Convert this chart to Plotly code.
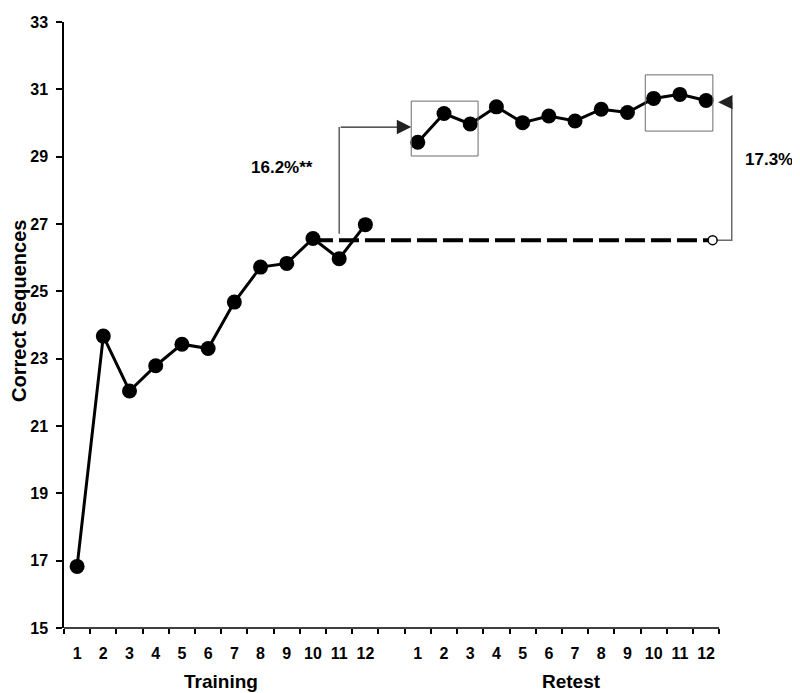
import plotly.graph_objects as go

# sessions and mean correct sequences
training_sessions = list(range(1, 13))
training_scores = [16.83, 23.67, 22.04, 22.79, 23.43, 23.30, 24.68, 25.72, 25.83, 26.57, 25.97, 26.98]
retest_sessions = list(range(1, 13))
retest_scores = [29.43, 30.28, 29.97, 30.48, 30.01, 30.21, 30.06, 30.41, 30.31, 30.73, 30.85, 30.67]
baseline_score = 26.52          # expected level if no off-line gain
gain_early = "16.2%**"
gain_late = "17.3%*"

y_ticks = list(range(15, 34, 2))

# slots on a shared axis: training 0..11, one blank slot, retest 13..24
train_x = [s - 1 for s in training_sessions]
retest_x = [s + 12 for s in retest_sessions]
tick_x = train_x + retest_x
tick_text = [str(s) for s in training_sessions] + [str(s) for s in retest_sessions]

FONT = "Liberation Sans, Arial, sans-serif"
BLACK = "#000000"
GREY = "#6b6b6b"

fig = go.Figure()

# dashed projection from training session 10 to end of retest
fig.add_trace(go.Scatter(
    x=[train_x[9], retest_x[-1] + 0.25],
    y=[baseline_score, baseline_score],
    mode="lines",
    line=dict(color=BLACK, width=4, dash="20px,6px"),
    hoverinfo="skip",
))

fig.add_trace(go.Scatter(
    x=train_x, y=training_scores, mode="lines+markers",
    line=dict(color=BLACK, width=3),
    marker=dict(size=15, color=BLACK),
    name="Training",
))
fig.add_trace(go.Scatter(
    x=retest_x, y=retest_scores, mode="lines+markers",
    line=dict(color=BLACK, width=3),
    marker=dict(size=15, color=BLACK),
    name="Retest",
))

# connector lines for the gain annotations
fig.add_trace(go.Scatter(
    x=[train_x[10], train_x[10]], y=[26.71, 29.88],
    mode="lines", line=dict(color="#333333", width=1.2), hoverinfo="skip",
))
fig.add_trace(go.Scatter(
    x=[retest_x[-1] + 0.25, 24.98, 24.98], y=[baseline_score, baseline_score, 30.62],
    mode="lines", line=dict(color=GREY, width=1.5), hoverinfo="skip",
))

# open circle at the projected end point
fig.add_trace(go.Scatter(
    x=[retest_x[-1] + 0.25], y=[baseline_score], mode="markers",
    marker=dict(size=9, color="white", line=dict(color=BLACK, width=1.5)),
    hoverinfo="skip",
))

# boxes around first and last three retest sessions
fig.add_shape(type="rect", xref="x", yref="y", x0=12.75, x1=15.3, y0=29.02, y1=30.65,
              line=dict(color=GREY, width=1))
fig.add_shape(type="rect", xref="x", yref="y", x0=21.68, x1=24.26, y0=29.76, y1=31.43,
              line=dict(color=GREY, width=1))

# bottom axis line only across the session slots
fig.add_shape(type="line", xref="x", yref="paper", x0=-0.5, x1=24.5, y0=0, y1=0,
              line=dict(color=BLACK, width=1.5))

fig.add_annotation(x=12.75, y=29.88, ax=train_x[10], ay=29.88, axref="x", ayref="y",
                   text="", showarrow=True, arrowhead=2, arrowsize=2.4, arrowwidth=1.2,
                   arrowcolor="#222222", standoff=0)
fig.add_annotation(x=24.46, y=30.62, ax=24.98, ay=30.62, axref="x", ayref="y",
                   text="", showarrow=True, arrowhead=2, arrowsize=2.4, arrowwidth=1.2,
                   arrowcolor="#222222", standoff=0)

fig.add_annotation(x=7.82, y=28.68, text=gain_early, showarrow=False,
                   font=dict(family=FONT, size=17, color=BLACK, weight="bold"))
fig.add_annotation(x=25.42, y=28.91, text=gain_late, showarrow=False, xanchor="left",
                   font=dict(family=FONT, size=17, color=BLACK, weight="bold"))

fig.add_annotation(x=5.5, y=-0.088, xref="x", yref="paper", yanchor="middle",
                   text="Training", showarrow=False,
                   font=dict(family=FONT, size=19, color=BLACK, weight="bold"))
fig.add_annotation(x=18.85, y=-0.088, xref="x", yref="paper", yanchor="middle",
                   text="Retest", showarrow=False,
                   font=dict(family=FONT, size=19, color=BLACK, weight="bold"))
fig.add_annotation(x=-0.066, y=0.523, xref="paper", yref="paper",
                   xanchor="center", yanchor="middle",
                   text="Correct Sequences", textangle=-90, showarrow=False,
                   font=dict(family=FONT, size=20, color=BLACK, weight="bold"))

fig.update_layout(
    width=800, height=693,
    margin=dict(l=56, r=60, t=6, b=73),
    plot_bgcolor="white", paper_bgcolor="white",
    showlegend=False,
    font=dict(family=FONT, color=BLACK),
)
fig.update_xaxes(
    range=[-0.5, 25.6],
    tickmode="array", tickvals=tick_x, ticktext=tick_text,
    ticks="", ticklabelstandoff=14,
    tickfont=dict(family=FONT, size=16, color=BLACK, weight="bold"),
    minor=dict(tickmode="array", tickvals=[i - 0.5 for i in range(26)],
               ticks="outside", ticklen=5, tickwidth=1.5, tickcolor=BLACK, showgrid=False),
    showline=False, showgrid=False, zeroline=False,
)
fig.update_yaxes(
    range=[15, 33], tickmode="array", tickvals=y_ticks,
    ticks="outside", ticklen=6, tickwidth=1.5, tickcolor=BLACK,
    tickfont=dict(family=FONT, size=16, color=BLACK, weight="bold"),
    ticklabeloverflow="allow", ticklabelstandoff=5,
    showline=True, linecolor=BLACK, linewidth=1.5,
    showgrid=False, zeroline=False,
)

fig.write_html("out.html")
